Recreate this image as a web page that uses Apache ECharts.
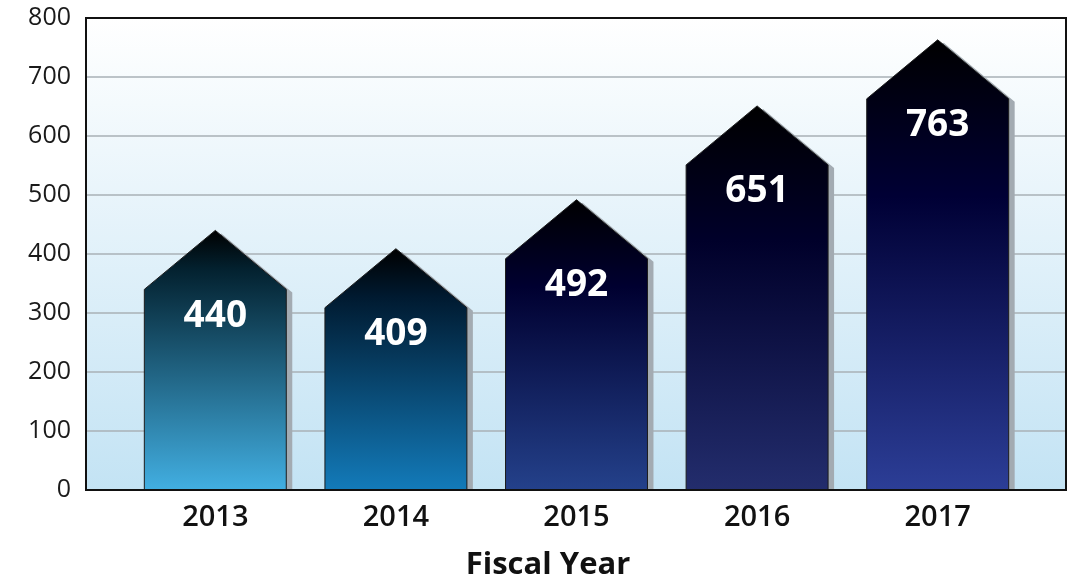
<!DOCTYPE html>
<html>
<head>
<meta charset="utf-8">
<script src="https://cdn.jsdelivr.net/npm/echarts@6/dist/echarts.min.js"></script>
<style>
html,body{margin:0;padding:0;background:#fff;}
#c{width:1073px;height:579px;}
</style>
</head>
<body>
<div id="c"></div>
<script>
// ---- data ----
const years = ['2013', '2014', '2015', '2016', '2017'];
const counts = [440, 409, 492, 651, 763];
const yTicks = [0, 100, 200, 300, 400, 500, 600, 700, 800];
const xTitle = 'Fiscal Year';

// ---- styling ----
const barGradients = [
  [[0, '#000000'], [0.15, '#03212f'], [1, '#42afe2']],
  [[0, '#000000'], [0.2, '#001a30'], [1, '#137bba']],
  [[0, '#000000'], [0.3, '#000030'], [1, '#24418b']],
  [[0, '#000000'], [0.35, '#00002a'], [1, '#232d6d']],
  [[0, '#000000'], [0.35, '#000035'], [1, '#2c3e97']]
];
const FONT = "'Open Sans', 'DejaVu Sans', sans-serif";

const chart = echarts.init(document.getElementById('c'), null, {renderer: 'canvas'});

const option = {
  animation: false,
  grid: [
    {left: 86, right: 7, top: 18, bottom: 89, show: true,
     backgroundColor: new echarts.graphic.LinearGradient(0, 0, 0, 1, [
       {offset: 0, color: '#ffffff'}, {offset: 1, color: '#c3e3f4'}]),
     borderColor: '#111', borderWidth: 2},
    {left: 125, right: 45, top: 18, bottom: 89}
  ],
  xAxis: [
    {gridIndex: 0, type: 'value', min: 0, max: 1, show: false},
    {gridIndex: 1, type: 'category', data: years,
     axisLine: {show: false}, axisTick: {show: false},
     axisLabel: {color: '#111', fontFamily: FONT, fontSize: 29, fontWeight: 600, margin: 13}}
  ],
  yAxis: [
    {gridIndex: 0, type: 'value', min: yTicks[0], max: yTicks[yTicks.length - 1], interval: 100,
     axisLine: {show: false}, axisTick: {show: false},
     axisLabel: {color: '#1a1a1a', fontFamily: FONT, fontSize: 25, margin: 15},
     splitLine: {lineStyle: {color: '#a9b0b6', width: 1.5}}},
    {gridIndex: 1, type: 'value', min: 0, max: 800, show: false}
  ],
  graphic: [
    {type: 'rect', z: 100, silent: true,
     shape: {x: 86, y: 18, width: 980, height: 472},
     style: {fill: 'none', stroke: '#111', lineWidth: 2}},
    {type: 'text', x: 548, y: 565, z: 100,
     style: {text: xTitle, fontFamily: FONT, fontSize: 31, fontWeight: 'bold', fill: '#111',
             textAlign: 'center', textVerticalAlign: 'middle'}}
  ],
  series: [{
    type: 'custom',
    xAxisIndex: 1, yAxisIndex: 1,
    data: counts.map((v, i) => [i, v]),
    renderItem: function (params, api) {
      const i = api.value(0), v = api.value(1);
      const peak = api.coord([i, v]);
      const base = api.coord([i, 0]);
      const shoulder = api.coord([i, v - 100]);
      const w = api.size([1, 0])[0] * 0.786;
      const cx = peak[0];
      const l = cx - w / 2, r = cx + w / 2;
      const stops = barGradients[params.dataIndex].map(s => ({offset: s[0], color: s[1]}));
      const pts = [[l, base[1]], [l, shoulder[1]], [cx, peak[1]], [r, shoulder[1]], [r, base[1]]];
      return {
        type: 'group',
        children: [
          {type: 'polygon',
           shape: {points: pts.map(p => [p[0] + 6, Math.min(p[1] + 3, base[1])])},
           style: {fill: '#a3abb2'}},
          {type: 'polygon',
           shape: {points: pts},
           style: {fill: new echarts.graphic.LinearGradient(0, 0, 0, 1, stops),
                   stroke: '#1c1c1c', lineWidth: 1}},
          {type: 'text',
           style: {text: String(v), x: cx, y: peak[1] + 86, textAlign: 'center', textVerticalAlign: 'middle',
                   fill: '#ffffff', fontFamily: FONT, fontSize: 37, fontWeight: 'bold'}}
        ]
      };
    }
  }]
};
chart.setOption(option);
</script>
</body>
</html>
